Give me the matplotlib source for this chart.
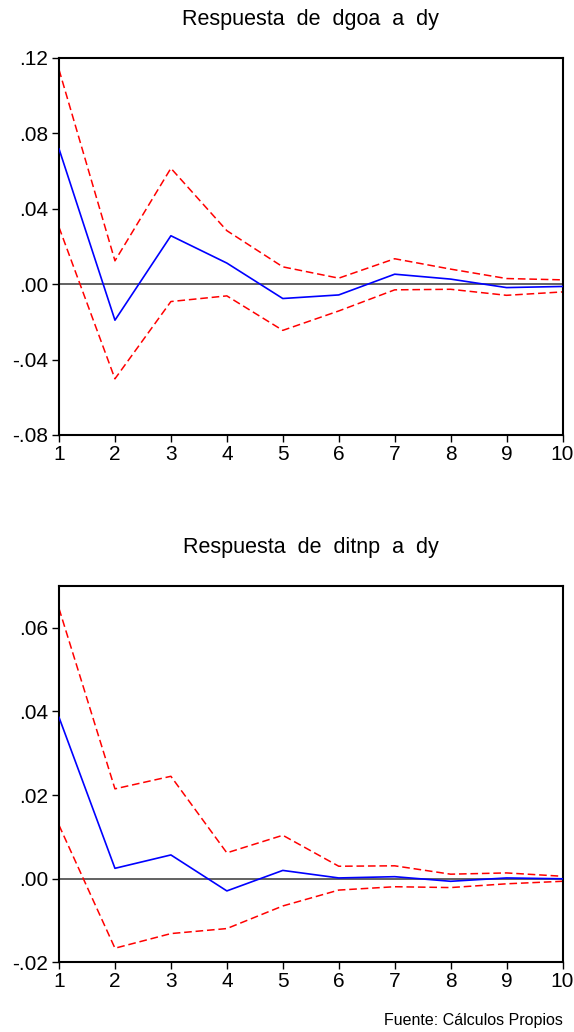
import matplotlib
matplotlib.use("Agg")
import matplotlib.pyplot as plt
from matplotlib.ticker import FuncFormatter, FixedLocator

plt.rcParams['font.family'] = ['Liberation Sans', 'DejaVu Sans']

periods = [1, 2, 3, 4, 5, 6, 7, 8, 9, 10]

# Response of dgoa to a shock in dy
dgoa_resp = [0.0718, -0.0191, 0.0257, 0.0112, -0.0076, -0.0057, 0.0053, 0.0027, -0.0018, -0.0012]
dgoa_upper = [0.1138, 0.0124, 0.0615, 0.0284, 0.0092, 0.0032, 0.0135, 0.0080, 0.0030, 0.0023]
dgoa_lower = [0.0302, -0.0502, -0.0092, -0.0062, -0.0245, -0.0142, -0.0030, -0.0027, -0.0059, -0.0041]

# Response of ditnp to a shock in dy
ditnp_resp = [0.0386, 0.0025, 0.0057, -0.0029, 0.0020, 0.0002, 0.0005, -0.0006, 0.0002, 0.0000]
ditnp_upper = [0.0646, 0.0215, 0.0245, 0.0062, 0.0104, 0.0030, 0.0031, 0.0011, 0.0014, 0.0006]
ditnp_lower = [0.0128, -0.0166, -0.0131, -0.0119, -0.0065, -0.0027, -0.0019, -0.0021, -0.0012, -0.0006]

titles = ["Respuesta  de  dgoa  a  dy", "Respuesta  de  ditnp  a  dy"]
yticks_top = [-0.08, -0.04, 0.00, 0.04, 0.08, 0.12]
yticks_bot = [-0.02, 0.00, 0.02, 0.04, 0.06]
source_note = "Fuente: Cálculos Propios"


def dot_fmt(v, pos):
    s = f"{v:.2f}"
    if s.startswith("-0"):
        return "-" + s[2:]
    if s.startswith("0"):
        return s[1:]
    return s


fig = plt.figure(figsize=(5.74, 10.32), dpi=100)

panels = [
    (dict(rect=[0.1028, 0.5785, 0.8772, 0.3653]), titles[0],
     dgoa_resp, dgoa_upper, dgoa_lower, yticks_top, (-0.08, 0.12)),
    (dict(rect=[0.1028, 0.0674, 0.8772, 0.3648]), titles[1],
     ditnp_resp, ditnp_upper, ditnp_lower, yticks_bot, (-0.02, 0.07)),
]

for spec, title, resp, up, lo, yt, ylim in panels:
    ax = fig.add_axes(spec["rect"])
    ax.axhline(0, color="#555555", lw=1.3, zorder=1)
    ax.plot(periods, up, color="#ff0000", lw=1.1, ls=(0, (5, 2.5)), zorder=2)
    ax.plot(periods, lo, color="#ff0000", lw=1.1, ls=(0, (5, 2.5)), zorder=2)
    ax.plot(periods, resp, color="#0000ff", lw=1.2, zorder=3)
    ax.set_xlim(1, 10)
    ax.set_ylim(*ylim)
    ax.xaxis.set_major_locator(FixedLocator(periods))
    ax.yaxis.set_major_locator(FixedLocator(yt))
    ax.yaxis.set_major_formatter(FuncFormatter(dot_fmt))
    ax.tick_params(axis="both", which="major", direction="out", length=5,
                   width=1.0, labelsize=15, top=False, right=False)
    ax.tick_params(axis="x", pad=2)
    ax.tick_params(axis="y", pad=3)
    for sp in ax.spines.values():
        sp.set_linewidth(1.5)
        sp.set_color("black")
    ax.set_title(title, fontsize=15.5, pad=24)

fig.text(0.981, 0.0116, source_note, ha="right", va="center", fontsize=11.5)

fig.savefig("out.png", dpi=100)
